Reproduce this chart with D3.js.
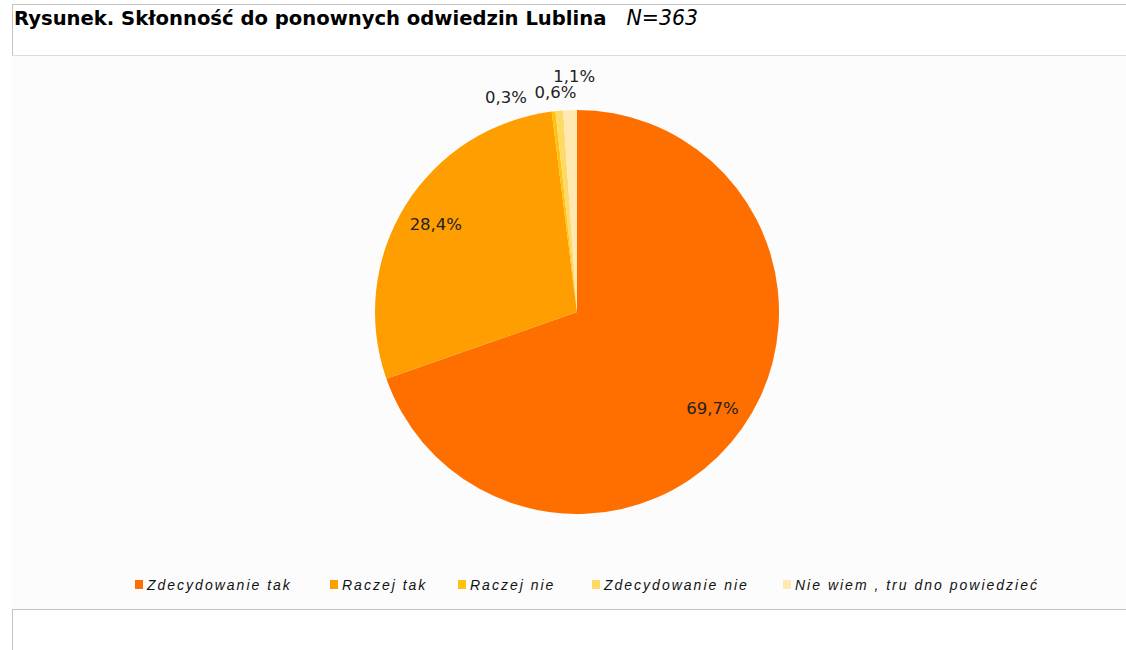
<!DOCTYPE html>
<html><head><meta charset="utf-8">
<script src="https://cdn.jsdelivr.net/npm/d3@7"></script>
<style>body{margin:0;background:#fff}svg{display:block}</style>
</head><body>
<script>
const categories = ["Zdecydowanie tak","Raczej tak","Raczej nie","Zdecydowanie nie","Nie wiem , tru dno powiedzieć"];
const values = [69.7, 28.4, 0.3, 0.6, 1.1];
const valueLabels = ["69,7%","28,4%","0,3%","0,6%","1,1%"];
const colors = ["#ff6f00","#ff9e00","#ffc20e","#ffd966","#ffe9b0"];
const titleMain = "Rysunek. Skłonność do ponownych odwiedzin Lublina";
const titleN = "N=363";

const W=1126,H=650;
const svg=d3.select("body").append("svg").attr("width",W).attr("height",H);
// frame
svg.append("rect").attr("x",12).attr("y",56).attr("width",W-12).attr("height",553).attr("fill","#fcfcfc");
const lc="#c4c4c4";
svg.append("line").attr("x1",12).attr("x2",W).attr("y1",4.5).attr("y2",4.5).attr("stroke",lc);
svg.append("line").attr("x1",12.5).attr("x2",12.5).attr("y1",4).attr("y2",56).attr("stroke",lc);
svg.append("line").attr("x1",12).attr("x2",W).attr("y1",55.5).attr("y2",55.5).attr("stroke","#dcdcdc");
svg.append("line").attr("x1",12).attr("x2",W).attr("y1",609.5).attr("y2",609.5).attr("stroke",lc);
svg.append("line").attr("x1",12.5).attr("x2",12.5).attr("y1",609).attr("y2",H).attr("stroke",lc);

// title
const t=svg.append("text").attr("x",14).attr("y",25).attr("font-family","DejaVu Sans").attr("font-size",19.6).attr("fill","#000");
t.append("tspan").attr("font-weight","bold").text(titleMain);
t.append("tspan").attr("font-style","italic").attr("dx",20).attr("font-size",20.5).text(titleN);

// pie
const cx=577,cy=312,R=202;
const total=d3.sum(values);
const pie=d3.pie().sort(null).value(d=>d)(values);
const arc=d3.arc().innerRadius(0).outerRadius(R);
const g=svg.append("g").attr("transform",`translate(${cx},${cy})`);
g.selectAll("path").data(pie).join("path").attr("d",arc).attr("fill",(d,i)=>colors[i]);

const inArc=d3.arc().innerRadius(166).outerRadius(166);
const outArc=d3.arc().innerRadius(R+22).outerRadius(R+22);
pie.forEach((d,i)=>{
  const frac=values[i]/total;
  let x,y;
  if(frac>0.05){[x,y]=inArc.centroid(d);}
  else{[x,y]=outArc.centroid(d);}
  d.lx=x;d.ly=y;d.small=frac<=0.05;
});
// dodge the crowded small labels near the top
const small=pie.filter(d=>d.small);
const dodge=[[5,-12],[-2,3],[-45,8]];
for(let k=small.length-1;k>=0;k--){
  const d=small[k];
  const rank=small.length-1-k;
  const o=dodge[Math.min(rank,dodge.length-1)];
  d.lx+=o[0]; d.ly+=o[1];
}
g.selectAll("text.lbl").data(pie).join("text").attr("class","lbl")
 .attr("x",d=>d.lx).attr("y",d=>d.ly).attr("dy","0.35em")
 .attr("text-anchor","middle").attr("font-family","DejaVu Sans").attr("font-size",16.5).attr("fill","#222")
 .text((d,i)=>valueLabels[i]);

// legend
const legX=[135,330,458,592,783];
const lg=svg.append("g");
categories.forEach((c,i)=>{
  lg.append("rect").attr("x",legX[i]).attr("y",580).attr("width",8).attr("height",9).attr("fill",colors[i]);
  lg.append("text").attr("x",legX[i]+12).attr("y",590).attr("font-family","Liberation Sans, Arial").attr("font-style","italic")
   .attr("font-size",14).attr("letter-spacing",2.0).attr("fill","#111").text(c);
});
</script>
</body></html>
